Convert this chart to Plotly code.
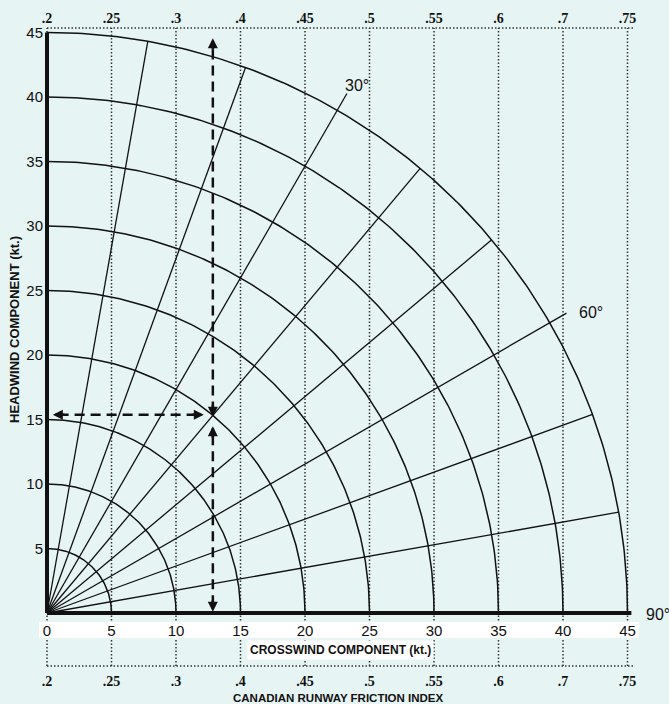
import numpy as np
import plotly.graph_objects as go

# ---------------- data ----------------
speed_rings = [5, 10, 15, 20, 25, 30, 35, 40, 45]           # wind speed arcs (kt)
wind_angles = [10, 20, 30, 40, 50, 60, 70, 80]               # radial lines (deg from runway)
ray_lengths = [45, 45, 46.5, 45, 45, 46.5, 45, 45]           # radial line lengths (kt)
crosswind_ticks = [0, 5, 10, 15, 20, 25, 30, 35, 40, 45]
crosswind_labels = ["0", "5", "10", "15", "20", "25", "30", "35", "40", "45"]
headwind_ticks = [5, 10, 15, 20, 25, 30, 35, 40, 45]
headwind_labels = ["5", "10", "15", "20", "25", "30", "35", "40", "45"]
crfi_labels = [".2", ".25", ".3", ".4", ".45", ".5", ".55", ".6", ".7", ".75"]
example_speed = 20      # kt
example_angle = 40      # deg
angle_labels = ["30°", "60°", "90°"]

# ---------------- geometry of the canvas ----------------
W, H = 669, 704
PX = 12.9                       # pixels per knot
ORIGIN_X, ORIGIN_Y = 47, 613    # pixel location of (0, 0)
X0, X1 = -ORIGIN_X / PX, (W - ORIGIN_X) / PX
Y0, Y1 = -(H - ORIGIN_Y) / PX, ORIGIN_Y / PX

BG = "#e7f4f4"
INK = "#111111"

def ypix(yv):
    return 1 - (ORIGIN_Y - yv * PX) / H

TOP_DOT_Y = (ORIGIN_Y - 28) / PX
BOT_DOT_Y = (ORIGIN_Y - 666) / PX
DOT_X_END = (635 - ORIGIN_X) / PX

fig = go.Figure()

# dotted CRFI grid
for xv in crosswind_ticks:
    fig.add_trace(go.Scatter(x=[xv, xv], y=[BOT_DOT_Y, TOP_DOT_Y], mode="lines",
                             line=dict(color="#333333", width=1.5, dash="1.5px,2px"),
                             hoverinfo="skip", showlegend=False))
for yv in [TOP_DOT_Y, BOT_DOT_Y]:
    fig.add_trace(go.Scatter(x=[0, DOT_X_END], y=[yv, yv], mode="lines",
                             line=dict(color="#333333", width=1.5, dash="1.5px,2px"),
                             hoverinfo="skip", showlegend=False))

# white band behind crosswind tick numbers
bx0, bx1 = (39 - ORIGIN_X) / PX, (639 - ORIGIN_X) / PX
by0, by1 = (ORIGIN_Y - 638) / PX, (ORIGIN_Y - 622) / PX
fig.add_trace(go.Scatter(x=[bx0, bx1, bx1, bx0, bx0], y=[by0, by0, by1, by1, by0],
                         mode="lines", fill="toself", fillcolor="white",
                         line=dict(width=0, color="white"), hoverinfo="skip", showlegend=False))

# speed arcs
theta = np.linspace(0, np.pi / 2, 181)
for r in speed_rings:
    fig.add_trace(go.Scatter(x=r * np.sin(theta), y=r * np.cos(theta), mode="lines",
                             line=dict(color=INK, width=1.5), hoverinfo="skip", showlegend=False))

# radial angle lines
for a, L in zip(wind_angles, ray_lengths):
    t = np.radians(a)
    fig.add_trace(go.Scatter(x=[0, L * np.sin(t)], y=[0, L * np.cos(t)], mode="lines",
                             line=dict(color=INK, width=1.3), hoverinfo="skip", showlegend=False))

# thick axes
fig.add_trace(go.Scatter(x=[0, 0], y=[0, 45], mode="lines", line=dict(color=INK, width=4),
                         hoverinfo="skip", showlegend=False))
fig.add_trace(go.Scatter(x=[0, 45.3], y=[0, 0], mode="lines", line=dict(color=INK, width=4),
                         hoverinfo="skip", showlegend=False))

# example: dashed construction lines
t = np.radians(example_angle)
xc, yc = example_speed * np.sin(t), example_speed * np.cos(t)
dash = dict(color=INK, width=2.5, dash="10px,6px")
fig.add_trace(go.Scatter(x=[xc, xc], y=[yc + 0.3, 44.0], mode="lines", line=dash,
                         hoverinfo="skip", showlegend=False))
fig.add_trace(go.Scatter(x=[xc, xc], y=[0.6, yc - 1.0], mode="lines", line=dash,
                         hoverinfo="skip", showlegend=False))
fig.add_trace(go.Scatter(x=[0.9, xc - 0.9], y=[yc + 0.05, yc + 0.05], mode="lines", line=dash,
                         hoverinfo="skip", showlegend=False))

# dummy traces for CRFI axes
for ax in ["x2", "x3"]:
    fig.add_trace(go.Scatter(x=[0], y=[0], xaxis=ax, yaxis="y", mode="markers",
                             marker=dict(opacity=0), hoverinfo="skip", showlegend=False))

# arrowheads
heads = [
    (xc, 44.55, 0, 13),         # up at top
    (xc, yc - 0.1, 0, -13),     # down into intersection
    (xc, yc - 0.85, 0, 13),     # up from below
    (xc, 0.1, 0, -13),          # down at bottom
    (0.45, yc + 0.05, 13, 0),   # left
    (xc - 0.7, yc + 0.05, -13, 0),  # right
]
for hx, hy, dx, dy in heads:
    fig.add_annotation(x=hx, y=hy, ax=dx, ay=dy, text="", showarrow=True,
                       arrowhead=2, arrowsize=0.8, arrowwidth=2.5, arrowcolor=INK, standoff=0)

# angle labels
for txt, (lx, ly) in zip(angle_labels, [(22.95, 40.9), (41.1, 23.3), (46.3, -0.1)]):
    fig.add_annotation(x=lx, y=ly, text=txt, showarrow=False, xanchor="left", yanchor="middle",
                       font=dict(family="Liberation Sans, Arial", size=16, color=INK))

# axis titles
fig.add_annotation(x=(340 - ORIGIN_X) / PX, y=(ORIGIN_Y - 650) / PX,
                   text="CROSSWIND COMPONENT (kt.)", showarrow=False, bgcolor="white",
                   borderpad=2, font=dict(family="Liberation Sans, Arial", size=12, color=INK, weight="bold"))
fig.add_annotation(x=(338 - ORIGIN_X) / PX, y=(ORIGIN_Y - 698) / PX,
                   text="CANADIAN RUNWAY FRICTION INDEX", showarrow=False,
                   font=dict(family="Liberation Sans, Arial", size=11.5, color=INK, weight="bold"))
fig.add_annotation(x=(14 - ORIGIN_X) / PX, y=(ORIGIN_Y - 330) / PX, textangle=-90,
                   text="HEADWIND COMPONENT (kt.)", showarrow=False,
                   font=dict(family="Liberation Sans, Arial", size=13, color=INK, weight="bold"))

num_font = dict(family="Liberation Sans, Arial", size=15, color=INK)
crfi_font = dict(family="Liberation Serif, Times New Roman", size=14, color=INK, weight="bold")

fig.update_layout(
    width=W, height=H, margin=dict(l=0, r=0, t=0, b=0),
    paper_bgcolor=BG, plot_bgcolor=BG,
    xaxis=dict(range=[X0, X1], domain=[0, 1], showgrid=False, zeroline=False, showline=False,
               tickmode="array", tickvals=crosswind_ticks, ticktext=crosswind_labels,
               ticks="", anchor="free", position=ypix(0), side="bottom",
               tickfont=num_font, ticklabelstandoff=7, fixedrange=True),
    xaxis2=dict(range=[X0, X1], overlaying="x", showgrid=False, zeroline=False, showline=False,
                tickmode="array", tickvals=crosswind_ticks, ticktext=crfi_labels,
                ticks="", anchor="free", position=ypix(TOP_DOT_Y), side="top",
                tickfont=crfi_font, ticklabelstandoff=2, fixedrange=True),
    xaxis3=dict(range=[X0, X1], overlaying="x", showgrid=False, zeroline=False, showline=False,
                tickmode="array", tickvals=crosswind_ticks, ticktext=crfi_labels,
                ticks="", anchor="free", position=ypix(BOT_DOT_Y), side="bottom",
                tickfont=crfi_font, ticklabelstandoff=5, fixedrange=True),
    yaxis=dict(range=[Y0, Y1], domain=[0, 1], showgrid=False, zeroline=False, showline=False,
               tickmode="array", tickvals=headwind_ticks, ticktext=headwind_labels,
               ticks="", anchor="free", position=ORIGIN_X / W, side="left",
               tickfont=num_font, ticklabelstandoff=4, fixedrange=True),
    showlegend=False,
)

fig.write_html(
    "out.html",
    config={"displayModeBar": False},
    post_script="document.body.style.margin='0';document.body.style.padding='0';"
                "document.body.style.background='" + BG + "';",
)
